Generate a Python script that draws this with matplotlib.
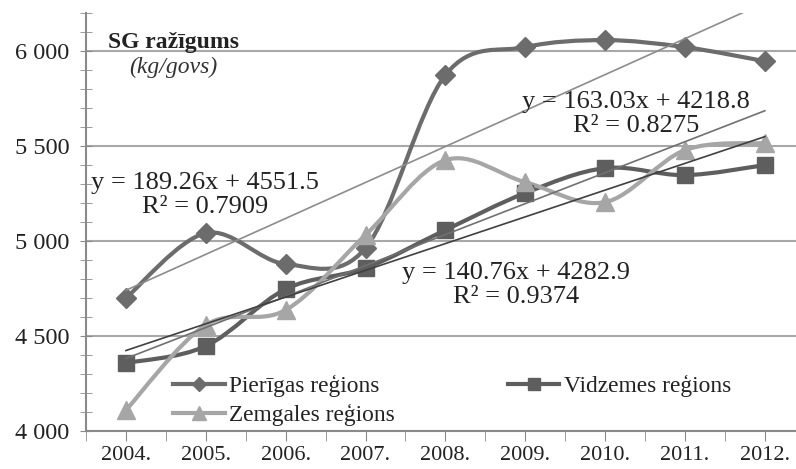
import numpy as np
import matplotlib
matplotlib.use('Agg')
import matplotlib.pyplot as plt
from matplotlib.path import Path
from matplotlib.patches import PathPatch
from matplotlib.lines import Line2D

# data
years = ['2004.', '2005.', '2006.', '2007.', '2008.', '2009.', '2010.', '2011.', '2012.']
pieriga = [4700, 5042, 4879, 4963, 5874, 6021, 6058, 6021, 5947]
vidzeme = [4358, 4447, 4747, 4858, 5058, 5253, 5384, 5347, 5400]
zemgale = [4110, 4558, 4637, 5032, 5426, 5310, 5205, 5479, 5516]
trend_coef = {'pieriga': (189.26, 4551.5, 0.7909),
              'zemgale': (163.03, 4218.8, 0.8275),
              'vidzeme': (140.76, 4282.9, 0.9374)}

plt.rcParams['font.family'] = ['Liberation Serif', 'DejaVu Serif']

fig = plt.figure(figsize=(7.96, 4.69), dpi=100)
ax = fig.add_axes([0.108, 0.081, 0.895, 0.891])
x = np.arange(len(years))


def smooth_path(xs, ys):
    # excel-like smoothed line: bezier segments through the points
    xs = np.asarray(xs, float)
    ys = np.asarray(ys, float)
    n = len(xs)
    verts = [(xs[0], ys[0])]
    codes = [Path.MOVETO]
    for i in range(n - 1):
        p0 = (xs[max(i - 1, 0)], ys[max(i - 1, 0)])
        p1 = (xs[i], ys[i])
        p2 = (xs[i + 1], ys[i + 1])
        p3 = (xs[min(i + 2, n - 1)], ys[min(i + 2, n - 1)])
        c1 = (p1[0] + (p2[0] - p0[0]) / 6, p1[1] + (p2[1] - p0[1]) / 6)
        c2 = (p2[0] - (p3[0] - p1[0]) / 6, p2[1] - (p3[1] - p1[1]) / 6)
        verts += [c1, c2, p2]
        codes += [Path.CURVE4] * 3
    return Path(verts, codes)


series = [
    ('Pierīgas reģions', pieriga, '#6c6c6c', 'D', 10),
    ('Vidzemes reģions', vidzeme, '#5e5e5e', 's', 12),
    ('Zemgales reģions', zemgale, '#a6a6a6', '^', 13),
]

for name, vals, col, mk, ms in series:
    ax.add_patch(PathPatch(smooth_path(x, vals), fill=False, edgecolor=col,
                           lw=3, zorder=3, capstyle='round'))
    ax.plot(x, vals, ls='none', marker=mk, ms=ms, color=col, zorder=4)

# trend lines
tx = np.array([x[0], x[-1]])
for key, col in [('pieriga', '#8c8c8c'), ('zemgale', '#707070'), ('vidzeme', '#404040')]:
    a, b, r2 = trend_coef[key]
    ax.plot(tx, a * (tx + 1) + b, color=col, lw=1.2, zorder=5)

eq_pos = {'pieriga': (0.99, 5242), 'zemgale': (6.39, 5668), 'vidzeme': (4.89, 4770)}
for key, (ex, ey) in eq_pos.items():
    a, b, r2 = trend_coef[key]
    ax.text(ex, ey, 'y = %.2fx + %.1f\nR² = %.4f' % (a, b, r2), ha='center',
            va='center', fontsize=19, color='#222222', linespacing=1.1, zorder=6)

ax.text(0.1225, 0.93, 'SG ražīgums', transform=ax.transAxes, fontsize=17,
        fontweight='bold', ha='center', va='center', color='#222222')
ax.text(0.1225, 0.871, '(kg/govs)', transform=ax.transAxes, fontsize=17,
        style='italic', ha='center', va='center', color='#333333')

ax.set_xlim(-0.48, 8.42)
ax.set_ylim(4000, 6200)
ax.set_xticks(x)
ax.set_xticklabels(years)
ax.set_xticks(np.arange(-0.5, 8.5, 1.0), minor=True)
ax.set_yticks([4000, 4500, 5000, 5500, 6000])
ax.set_yticklabels(['4 000', '4 500', '5 000', '5 500', '6 000'])
ax.set_yticks(np.arange(4000, 6201, 100), minor=True)
ax.tick_params(axis='y', which='both', direction='inout', length=8, color='#8a8a8a',
               labelsize=17.5, labelcolor='#222222', pad=8)
ax.tick_params(axis='x', which='both', direction='out', length=7, color='#8a8a8a',
               labelsize=16, labelcolor='#222222', pad=4)
ax.grid(axis='y', which='major', color='#a8a8a8', lw=1.5, zorder=1)
ax.set_axisbelow(True)
for s in ['top', 'right']:
    ax.spines[s].set_visible(False)
for s in ['left', 'bottom']:
    ax.spines[s].set_color('#8a8a8a')
    ax.spines[s].set_linewidth(1.5)

handles = [Line2D([], [], color=c, lw=3, marker=m, ms=ms * 0.75) for _, _, c, m, ms in series]
labels = [s[0] for s in series]
order = [0, 2, 1]
leg = ax.legend([handles[i] for i in order], [labels[i] for i in order], ncol=2,
                loc='lower left', bbox_to_anchor=(0.093, -0.038), frameon=False,
                fontsize=16.8, handlelength=2.2, handletextpad=0.2, columnspacing=4.85,
                labelspacing=0.3)
for t in leg.get_texts():
    t.set_color('#222222')

fig.savefig('out.png', dpi=100)
